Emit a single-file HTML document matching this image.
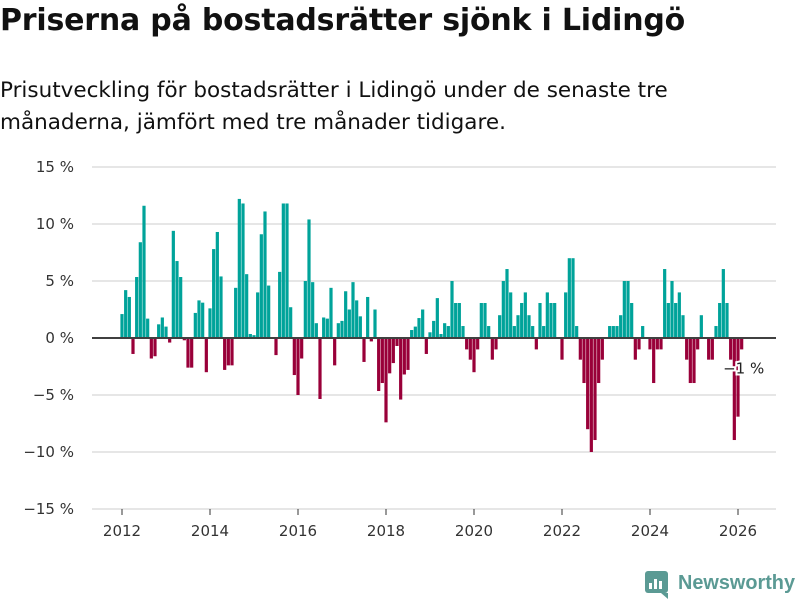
<!DOCTYPE html>
<html><head><meta charset="utf-8"><style>
body{margin:0;width:800px;height:600px;background:#fff;font-family:"Liberation Sans","DejaVu Sans",sans-serif;overflow:hidden}
h1{position:absolute;left:0;top:3px;margin:0;font-size:30px;font-weight:bold;color:#111;font-family:"DejaVu Sans",sans-serif;letter-spacing:-0.2px;white-space:nowrap}
.sub{position:absolute;left:0;top:75px;font-size:21.5px;line-height:32px;color:#111;font-family:"DejaVu Sans",sans-serif;white-space:nowrap}
svg{position:absolute;left:0;top:0}
</style></head><body>
<h1>Priserna på bostadsrätter sjönk i Lidingö</h1>
<div class="sub">Prisutveckling för bostadsrätter i Lidingö under de senaste tre<br>månaderna, jämfört med tre månader tidigare.</div>
<svg id="chart" width="800" height="600"></svg>
<script>
const values=[2.1,4.2,3.6,-1.4,5.35,8.4,11.6,1.7,-1.8,-1.6,1.2,1.8,
1.0,-0.4,9.4,6.75,5.35,-0.2,-2.6,-2.6,2.2,3.3,3.1,-3.0,
2.6,7.8,9.3,5.4,-2.8,-2.4,-2.4,4.4,12.2,11.8,5.6,0.35,
0.25,4.0,9.1,11.1,4.6,0,-1.5,5.8,11.8,11.8,2.7,-3.25,
-5.0,-1.8,5.0,10.4,4.9,1.3,-5.35,1.8,1.7,4.4,-2.4,1.3,
1.5,4.1,2.5,4.9,3.3,1.9,-2.1,3.6,-0.3,2.5,-4.65,-3.95,
-7.4,-3.1,-2.2,-0.7,-5.4,-3.2,-2.8,0.7,1.0,1.75,2.5,-1.4,
0.5,1.5,3.5,0.35,1.3,1.05,5.0,3.07,3.07,1.05,-1.0,-1.9,
-3.0,-1.0,3.07,3.07,1.05,-1.9,-1.0,2.0,5.0,6.05,4.0,1.05,
2.0,3.07,4.0,2.0,1.05,-1.0,3.07,1.05,4.0,3.07,3.07,0,
-1.9,4.0,7.0,7.0,1.05,-1.9,-3.95,-8.0,-10.0,-8.95,-3.95,-1.9,
0,1.05,1.05,1.05,2.0,5.0,5.0,3.07,-1.9,-1.0,1.05,0,
-1.0,-3.95,-1.0,-1.0,6.05,3.07,5.0,3.07,4.0,2.0,-1.9,-3.95,
-3.95,-1.0,2.0,0,-1.9,-1.9,1.05,3.07,6.05,3.07,-1.9,-8.95,
-6.9,-1.0];
const yTicks=[15,10,5,0,-5,-10,-15];
const xYears=[2012,2014,2016,2018,2020,2022,2024,2026];
const lastLabel="−1 %";
const NS="http://www.w3.org/2000/svg",svg=document.getElementById('chart');
const x=m=>122+m*44/12, y=v=>338-v*11.4, xYear=yr=>x((yr-2012)*12);
function mk(t,a,p){const e=document.createElementNS(NS,t);for(const k in a)e.setAttribute(k,a[k]);(p||svg).appendChild(e);return e;}
yTicks.forEach(v=>{
 if(v!==0){const g=mk('line',{x1:92,x2:776,y1:y(v),y2:y(v),stroke:'#dddddd','stroke-width':1.5});
 
 }
 const t=mk('text',{x:74,y:y(v)+5,'text-anchor':'end','font-size':15,fill:'#333','font-family':'DejaVu Sans,sans-serif'});
 t.textContent=(v<0?'−'+(-v):v)+' %';
 
 
});
xYears.forEach(yr=>{
 const t=mk('text',{x:xYear(yr),y:536,'text-anchor':'middle','font-size':15,fill:'#333','font-family':'DejaVu Sans,sans-serif'});
 t.textContent=yr;
 
 
 const k=mk('line',{x1:xYear(yr),x2:xYear(yr),y1:509,y2:515,stroke:'#333'});
 
 
});
values.forEach((v,i)=>{
 if(v===0)return;
 const r=mk('rect',{x:x(i)-1.6,width:3.2,y:Math.min(y(v),338),height:Math.abs(y(v)-338),fill:v>0?'#00a39a':'#990039'});
 
 
});
const z=mk('line',{x1:92,x2:776,y1:338,y2:338,stroke:'#404040','stroke-width':2});


const lab=mk('text',{x:x(values.length-1)+2,y:y(values[values.length-1])+24,'font-size':15,fill:'#222',stroke:'#fff','stroke-width':4,'paint-order':'stroke','font-family':'DejaVu Sans,sans-serif','text-anchor':'middle'});
lab.textContent=lastLabel;


// logo
const lg=mk('g',{});


mk('rect',{x:645,y:571,width:23,height:22,rx:3,fill:'#5b9a94'},lg);
[[649,583,3,6],[654,579,3,10],[659,581,3,8]].forEach(b=>mk('rect',{x:b[0],y:b[1],width:b[2],height:b[3],fill:'#fff'},lg));
mk('polygon',{points:'661,593 668,593 668,599',fill:'#5b9a94'},lg);
const lt=mk('text',{x:678,y:589,'font-size':20,'font-weight':'bold',fill:'#5b9a94','font-family':'Liberation Sans,sans-serif',textLength:117,lengthAdjust:'spacingAndGlyphs'},lg);
lt.textContent='Newsworthy';
</script>
</body></html>
